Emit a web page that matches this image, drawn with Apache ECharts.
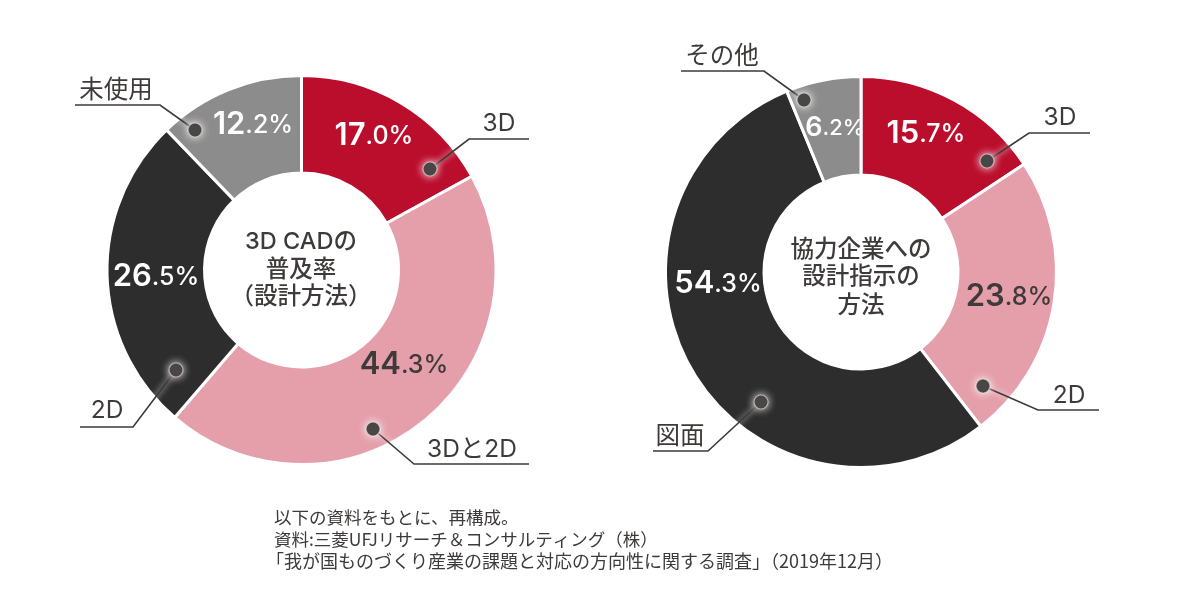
<!DOCTYPE html>
<html lang="ja">
<head>
    <meta charset="UTF-8">
    <title>3D CADの普及率</title>
    <script src="https://cdn.jsdelivr.net/npm/echarts@6/dist/echarts.min.js"></script>
    <style>
        html, body { margin: 0; padding: 0; background: #fff; }
    </style>
</head>
<body>
<div id="box" style="width:1200px;height:611px;"></div>
<script>
    // データ
    var leftNames = ['3D', '3Dと2D', '2D', '未使用'];
    var leftValues = [17.0, 44.3, 26.5, 12.2];
    var rightNames = ['3D', '2D', '図面', 'その他'];
    var rightValues = [15.7, 23.8, 54.3, 6.2];
    var leftTitle = ['3D CADの', '普及率', '（設計方法）'];
    var rightTitle = ['協力企業への', '設計指示の', '方法'];
    var notes = [
        '以下の資料をもとに、再構成。',
        '資料:三菱UFJリサーチ＆コンサルティング（株）',
        '「我が国ものづくり産業の課題と対応の方向性に関する調査」（2019年12月）'
    ];
    var colors = ['#bb0e2d', '#e59fab', '#2d2d2d', '#8c8c8c'];
    var labelColors = ['#fff', '#3e3a39', '#fff', '#fff'];

    var CJK = '"Noto Sans CJK JP", sans-serif';
    var MIXED = 'Inter, "Noto Sans CJK JP", sans-serif';
    var TEXT = '#3e3a39';

    // 数値ラベルの位置
    var leftLabelPos = [[374, 136], [404, 365], [156, 277], [253, 125]];
    var rightLabelPos = [[926, 134], [1009, 297], [718, 284], [835, 128]];

    // 引き出し線: 点 → 折れ点 → 端、ラベル位置
    var leftCallouts = [
        {pts: [[430, 169], [469, 139], [529, 139]], text: [499, 124]},
        {pts: [[373, 429], [414, 464], [529, 464]], text: [472, 450]},
        {pts: [[176, 370], [133, 427], [80, 427]], text: [107, 411]},
        {pts: [[195, 130], [160, 105], [75, 105]], text: [116, 91]}
    ];
    var rightCallouts = [
        {pts: [[987, 161], [1029, 133], [1090, 133]], text: [1060, 118]},
        {pts: [[983, 386], [1038, 410], [1099, 410]], text: [1069, 396]},
        {pts: [[761, 402], [708, 451], [653, 451]], text: [680, 437]},
        {pts: [[804, 100], [764, 71], [681, 71]], text: [722, 57]}
    ];

    function makePie(names, values, center, radius, labelPos) {
        return {
            type: 'pie',
            center: center,
            radius: radius,
            startAngle: 90,
            clockwise: true,
            silent: true,
            animation: false,
            itemStyle: {borderColor: '#fff', borderWidth: 3},
            labelLine: {show: false},
            label: {
                position: 'inside',
                formatter: function (p) {
                    var parts = p.value.toFixed(1).split('.');
                    // 小さいスライスは文字も小さい
                    var big = p.value < 10 ? 'b2' : 'b';
                    var small = p.value < 10 ? 's2' : 's';
                    return '{' + big + '|' + parts[0] + '}{' + small + '|.' + parts[1] + '%}';
                }
            },
            labelLayout: function (p) {
                var pos = labelPos[p.dataIndex];
                return {x: pos[0], y: pos[1], align: 'center', verticalAlign: 'middle'};
            },
            data: names.map(function (n, i) {
                var c = labelColors[i];
                return {
                    name: n,
                    value: values[i],
                    itemStyle: {color: colors[i]},
                    label: {
                        rich: {
                            b: {fontFamily: 'Inter', fontSize: 31, fontWeight: 600, color: c},
                            s: {fontFamily: 'Inter', fontSize: 25, fontWeight: 500, color: c},
                            b2: {fontFamily: 'Inter', fontSize: 27, fontWeight: 600, color: c},
                            s2: {fontFamily: 'Inter', fontSize: 22, fontWeight: 500, color: c}
                        }
                    }
                };
            })
        };
    }

    function textEl(str, x, y, size, align, weight, family) {
        return {
            type: 'text',
            silent: true,
            z: 100,
            style: {
                text: str, x: x, y: y,
                fontFamily: family || MIXED, fontSize: size, fontWeight: weight || 400,
                fill: TEXT, textAlign: align, textVerticalAlign: 'middle'
            }
        };
    }

    function calloutEls(names, callouts) {
        var els = [];
        callouts.forEach(function (c, i) {
            els.push({
                type: 'polyline', silent: true, z: 100,
                shape: {points: c.pts},
                style: {stroke: TEXT, lineWidth: 1.6, fill: null, shadowBlur: 6, shadowColor: '#fff'}
            });
            els.push({
                type: 'circle', silent: true, z: 101,
                shape: {cx: c.pts[0][0], cy: c.pts[0][1], r: 7},
                style: {fill: '#3e3a39', stroke: 'rgba(255,255,255,0.5)', lineWidth: 1.2, shadowBlur: 9, shadowColor: '#fff'}
            });
            els.push(textEl(names[i], c.text[0], c.text[1], 24.5, 'center'));
        });
        return els;
    }

    var graphicEls = []
        .concat(calloutEls(leftNames, leftCallouts))
        .concat(calloutEls(rightNames, rightCallouts));

    [242, 270, 297].forEach(function (y, i) {
        graphicEls.push(textEl(leftTitle[i], 301, y, 23.5, 'center', 500));
    });
    [250, 277, 306].forEach(function (y, i) {
        graphicEls.push(textEl(rightTitle[i], 861, y, 23.5, 'center', 500));
    });
    var noteX = [274, 274, 266];
    var noteSize = [17.5, 17.5, 18];
    [517, 539, 561].forEach(function (y, i) {
        graphicEls.push(textEl(notes[i], noteX[i], y, noteSize[i], 'left', 400, CJK));
    });

    var myChart = echarts.init(document.getElementById('box'));
    myChart.setOption({
        animation: false,
        backgroundColor: '#fff',
        series: [
            makePie(leftNames, leftValues, [301.5, 270], [97, 194.5], leftLabelPos),
            makePie(rightNames, rightValues, [861, 272], [97, 195.5], rightLabelPos)
        ],
        graphic: {elements: graphicEls}
    });
</script>
</body>
</html>
